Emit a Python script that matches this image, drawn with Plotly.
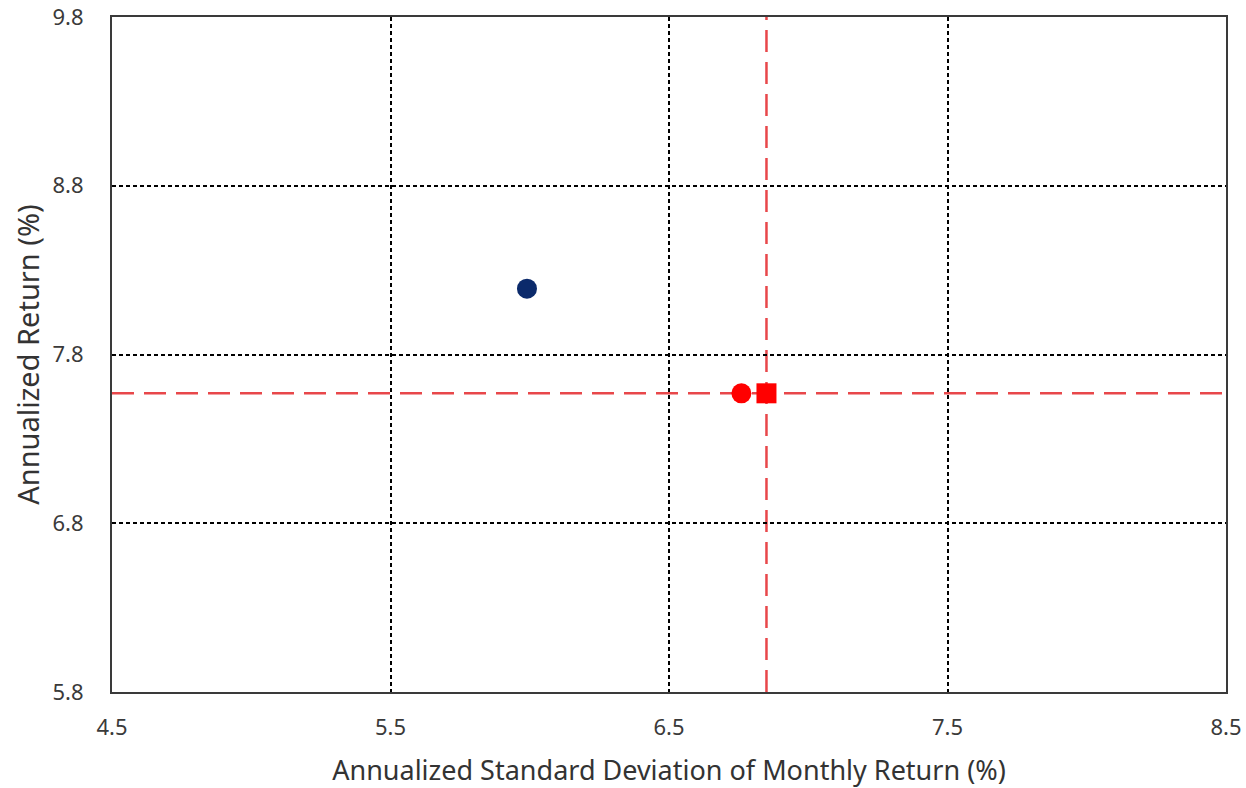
import plotly.graph_objects as go

# Data
navy_x = [5.99]
navy_y = [8.19]
red_circle_x = [6.76]
red_circle_y = [7.57]
red_square_x = [6.85]
red_square_y = [7.57]
ref_x = 6.85
ref_y = 7.57
x_ticks = [4.5, 5.5, 6.5, 7.5, 8.5]
y_ticks = [5.8, 6.8, 7.8, 8.8, 9.8]

font_family = "Noto Sans"
text_color = "#333333"

fig = go.Figure()
fig.add_trace(go.Scatter(x=navy_x, y=navy_y, mode="markers",
                         marker=dict(color="#0b2a6b", size=20, symbol="circle"),
                         showlegend=False))
fig.add_trace(go.Scatter(x=red_circle_x, y=red_circle_y, mode="markers",
                         marker=dict(color="#ff0000", size=20, symbol="circle"),
                         showlegend=False))
fig.add_trace(go.Scatter(x=red_square_x, y=red_square_y, mode="markers",
                         marker=dict(color="#ff0000", size=20, symbol="square"),
                         showlegend=False))

line_style = dict(color="#e8474a", width=2.5, dash="22px,10px")
fig.add_shape(type="line", xref="x", yref="paper", x0=ref_x, x1=ref_x, y0=0, y1=1,
              line=line_style, layer="below")
fig.add_shape(type="line", xref="paper", yref="y", x0=0, x1=1, y0=ref_y, y1=ref_y,
              line=line_style, layer="below")

axis_common = dict(
    showline=True, mirror=True, linecolor="#3a3a3a", linewidth=2,
    showgrid=True, gridcolor="#000000", gridwidth=1.5, griddash="4px,3px",
    zeroline=False, ticks="", automargin=False,
    tickfont=dict(family=font_family, size=22, color="#3a3a3a"),
)

fig.update_xaxes(range=[4.5, 8.5], tickvals=x_ticks, ticktext=[f"{v:.1f}" for v in x_ticks],
                 ticklabelstandoff=15,
                 title=dict(text="Annualized Standard Deviation of Monthly Return (%)",
                            font=dict(family=font_family, size=27, color=text_color),
                            standoff=22),
                 **axis_common)
fig.update_yaxes(range=[5.8, 9.8], tickvals=y_ticks, ticktext=[f"{v:.1f}" for v in y_ticks],
                 ticklabelstandoff=22,
                 title=dict(text="Annualized Return (%)",
                            font=dict(family=font_family, size=29, color=text_color),
                            standoff=4),
                 **axis_common)

fig.update_layout(
    width=1246, height=788,
    margin=dict(l=112, r=20, t=17, b=96),
    plot_bgcolor="white", paper_bgcolor="white",
    font=dict(family=font_family, color=text_color),
)

fig.write_html("out.html", config={"displayModeBar": False},
               post_script="document.body.style.margin='0';document.body.style.overflow='hidden';")
